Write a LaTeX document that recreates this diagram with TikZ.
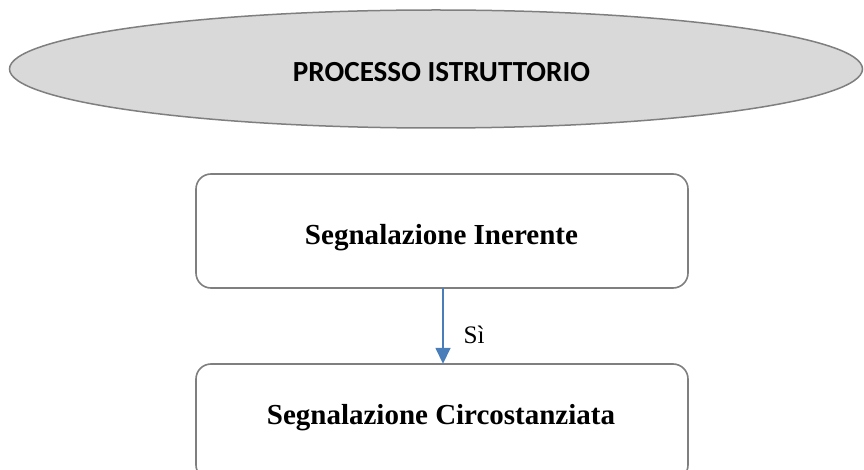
\documentclass[tikz,border=0pt]{standalone}
\usepackage{fontspec}
\setmainfont{Liberation Serif}
\newfontfamily\carl{Carlito}
\usetikzlibrary{arrows.meta,shapes.geometric}
\definecolor{ellfill}{HTML}{D9D9D9}
\definecolor{edgegray}{HTML}{7F7F7F}
\definecolor{arrblue}{HTML}{4A7EBB}
\begin{document}
\begin{tikzpicture}[x=1pt,y=-1pt,
  stepbox/.style={draw=edgegray,line width=1.6pt,rounded corners=15pt,fill=white},
  lbl/.style={font=\bfseries}]
\useasboundingbox (0,0) rectangle (864,470);
\clip (0,0) rectangle (864,470);
\node[draw=edgegray,fill=ellfill,line width=1.5pt,ellipse,minimum width=853pt,minimum height=118pt,inner sep=0pt] (proc) at (436,69) {};
\node[inner sep=0pt] (proct) at (441.5,72.5) {\resizebox{297pt}{!}{\carl\bfseries PROCESSO ISTRUTTORIO}};
\draw[stepbox] (196,174) rectangle (688,288);
\node (b1) at (442,231) [minimum width=492pt,minimum height=114pt] {};
\node (b1t) at (441.5,238) {\resizebox{273pt}{!}{\bfseries Segnalazione Inerente}};
\draw[stepbox] (196,364) rectangle (688,480);
\node (b2) at (442,422) [minimum width=492pt,minimum height=116pt] {};
\node (b2t) at (441,418) {\resizebox{348pt}{!}{\bfseries Segnalazione Circostanziata}};
\draw[arrblue,line width=1.6pt,-{Triangle[length=16pt,width=15pt]}] (b1.south -| 443,0) -- (b2.north -| 443,0);
\node (si) at (474,335) {\resizebox{21pt}{!}{Sì}};
\end{tikzpicture}
\end{document}
